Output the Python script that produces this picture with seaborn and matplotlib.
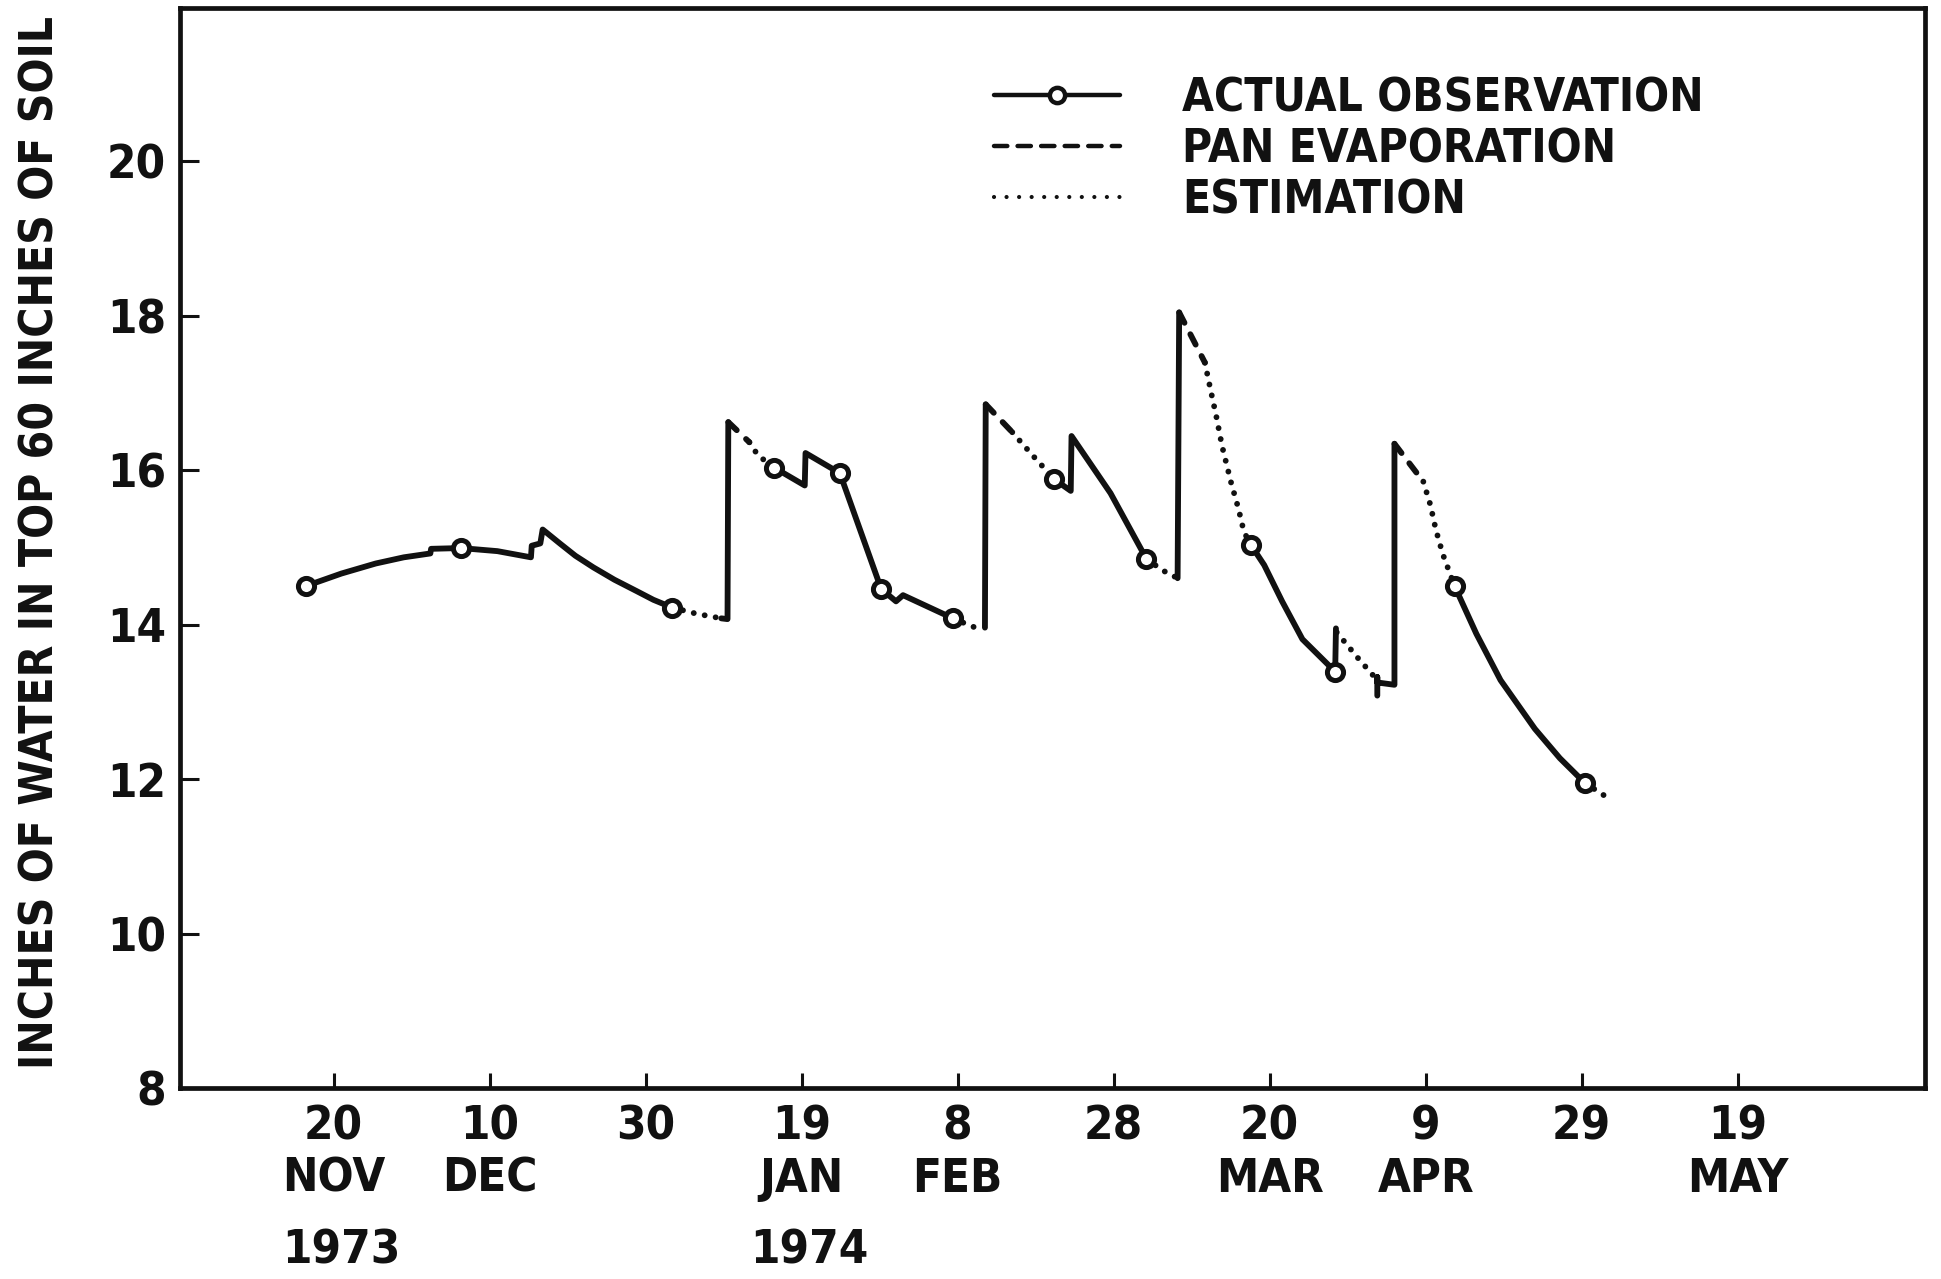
import matplotlib
matplotlib.use("Agg")
import matplotlib.pyplot as plt
import matplotlib.transforms as mtransforms
from matplotlib.lines import Line2D
from matplotlib.font_manager import FontProperties
import seaborn as sns

# ---- data: day 0 = 20 Nov 1973, values = inches of water in top 60 in of soil ----
obs_day = [-3.5, 16.3, 43.4, 56.5, 64.9, 70.2, 79.4, 92.4, 104.2, 117.6, 128.4, 143.7, 160.4]
obs_val = [14.50, 14.99, 14.22, 16.03, 15.96, 14.46, 14.08, 15.88, 14.85, 15.03, 13.39, 14.50, 11.95]

# runs drawn as solid lines (measured / rainfall steps)
solid_days = [
    [-3.5, 1.0, 5.4, 9.0, 12.4, 12.5, 16.3, 21.0, 25.3, 25.4, 26.5, 26.8,
     29.0, 31.0, 33.3, 36.0, 38.9, 41.0, 43.4],
    [49.7, 50.5, 50.6],
    [56.5, 60.4, 60.5, 64.9, 70.2, 72.1, 73.0, 79.4],
    [83.5, 83.6],
    [92.4, 94.5, 94.6, 99.6, 104.2],
    [108.2, 108.4],
    [117.6, 119.3, 121.6, 124.2, 128.4, 128.5],
    [133.8, 133.8, 133.8, 136.0, 136.0],
    [143.7, 146.5, 149.6, 154.0, 157.2, 160.4],
]
solid_vals = [
    [14.50, 14.66, 14.79, 14.87, 14.92, 14.98, 14.99, 14.95, 14.87, 15.02, 15.05, 15.23,
     15.05, 14.89, 14.74, 14.58, 14.43, 14.32, 14.22],
    [14.08, 14.07, 16.62],
    [16.03, 15.80, 16.22, 15.96, 14.46, 14.30, 14.38, 14.08],
    [13.96, 16.85],
    [15.88, 15.73, 16.44, 15.70, 14.85],
    [14.60, 18.04],
    [15.03, 14.77, 14.30, 13.81, 13.39, 13.95],
    [13.08, 13.32, 13.25, 13.22, 16.34],
    [14.50, 13.88, 13.28, 12.65, 12.27, 11.95],
]

# runs computed from pan evaporation
pan_days = [[50.6, 53.3], [83.6, 87.0], [108.4, 111.7], [136.0, 139.7]]
pan_vals = [[16.62, 16.36], [16.85, 16.49], [18.04, 17.39], [16.34, 15.85]]

# estimated runs
est_days = [
    [43.4, 46.5, 49.7],
    [53.3, 54.4, 56.5],
    [79.4, 82.0, 83.4],
    [87.0, 89.7, 92.4],
    [104.2, 106.3, 108.2],
    [111.7, 112.4, 113.15, 113.9, 115.05, 116.0, 116.7, 117.6],
    [128.6, 131.2, 133.8],
    [139.7, 140.6, 141.3, 142.2, 143.7],
    [160.4, 163.0],
]
est_vals = [
    [14.22, 14.14, 14.08],
    [16.36, 16.19, 16.03],
    [14.08, 13.97, 13.96],
    [16.49, 16.18, 15.88],
    [14.85, 14.70, 14.60],
    [17.39, 17.05, 16.70, 16.31, 15.84, 15.50, 15.20, 15.03],
    [13.90, 13.58, 13.28],
    [15.85, 15.55, 15.23, 14.91, 14.50],
    [11.95, 11.78],
]

tick_days = [0, 20, 40, 60, 80, 100, 120, 140, 160, 180]
tick_dates = ["20", "10", "30", "19", "8", "28", "20", "9", "29", "19"]
tick_months = ["NOV", "DEC", "", "JAN", "FEB", "", "MAR", "APR", "", "MAY"]
year_labels = ["1973", "1974"]
year_days = [0, 60]
y_ticks = [8, 10, 12, 14, 16, 18, 20]

legend_labels = ["ACTUAL OBSERVATION", "PAN EVAPORATION", "ESTIMATION"]
y_title = "INCHES OF WATER IN TOP 60 INCHES OF SOIL"

# ---- styling ----
sns.set_style("ticks")
plt.rcParams["font.family"] = ["DejaVu Sans"]
plt.rcParams["lines.solid_capstyle"] = "round"
plt.rcParams["lines.dash_capstyle"] = "round"
plt.rcParams["lines.solid_joinstyle"] = "round"
plt.rcParams["lines.dash_joinstyle"] = "round"

INK = "#111111"
LW = 4.2
DOTTED = (0, (0.01, 1.9))
DASHED = (0, (2.0, 2.2))

def font(size, weight="bold"):
    return FontProperties(family="DejaVu Sans", weight=weight, stretch="condensed", size=size)

fig = plt.figure(figsize=(19.41, 12.79), dpi=100)
ax = fig.add_axes([0.0927, 0.1493, 0.899, 0.8444])

for days, vals in zip(solid_days, solid_vals):
    sns.lineplot(x=days, y=vals, sort=False, estimator=None, color=INK,
                 linewidth=LW, ax=ax, zorder=3)
for days, vals in zip(pan_days, pan_vals):
    sns.lineplot(x=days, y=vals, sort=False, estimator=None, color=INK,
                 linewidth=LW, linestyle=DASHED, ax=ax, zorder=3)
for days, vals in zip(est_days, est_vals):
    sns.lineplot(x=days, y=vals, sort=False, estimator=None, color=INK,
                 linewidth=LW, linestyle=DOTTED, ax=ax, zorder=3)

sns.scatterplot(x=obs_day, y=obs_val, marker="o", s=135, color="white",
                edgecolor=INK, linewidth=3.6, zorder=5, ax=ax)

# axes frame and ticks
ax.set_xlim(-19.7, 204)
ax.set_ylim(8, 21.98)
for side in ["left", "bottom", "top", "right"]:
    ax.spines[side].set_visible(True)
    ax.spines[side].set_linewidth(3.4)
    ax.spines[side].set_color(INK)

ax.set_xticks(tick_days)
ax.set_xticklabels([d + ("\n" + m if m else "") for d, m in zip(tick_dates, tick_months)],
                   fontproperties=font(34), linespacing=1.2)
ax.set_yticks(y_ticks)
ax.set_yticklabels([str(v) for v in y_ticks], fontproperties=font(34))
ax.tick_params(axis="x", direction="in", length=11, width=2.2, color=INK, pad=12, labelcolor=INK)
ax.tick_params(axis="y", direction="in", length=14, width=2.2, color=INK, pad=10, labelcolor=INK)

trans = mtransforms.blended_transform_factory(ax.transData, ax.transAxes)
for lab, d in zip(year_labels, year_days):
    ax.text(d + 1, -0.151, lab, transform=trans, ha="center", va="center",
            fontproperties=font(34), color=INK)

ax.set_xlabel("")
ax.set_ylabel(y_title, fontproperties=font(33), color=INK)
ax.yaxis.set_label_coords(-0.067, 0.505)

handles = [
    Line2D([], [], color=INK, lw=3.2, marker="o", ms=11, mfc="white", mec=INK, mew=3.2),
    Line2D([], [], color=INK, lw=3.2, linestyle=(0, (3.0, 2.3))),
    Line2D([], [], color=INK, lw=3.0, linestyle=(0, (0.01, 3.0))),
]
leg = ax.legend(handles, legend_labels, loc="upper left", bbox_to_anchor=(0.4665, 0.937),
                frameon=False, borderpad=0, borderaxespad=0, handlelength=2.75,
                handletextpad=1.35, labelspacing=0.13, numpoints=1, prop=font(33))
for t in leg.get_texts():
    t.set_color(INK)

fig.savefig("out.png", dpi=100, facecolor="white")
